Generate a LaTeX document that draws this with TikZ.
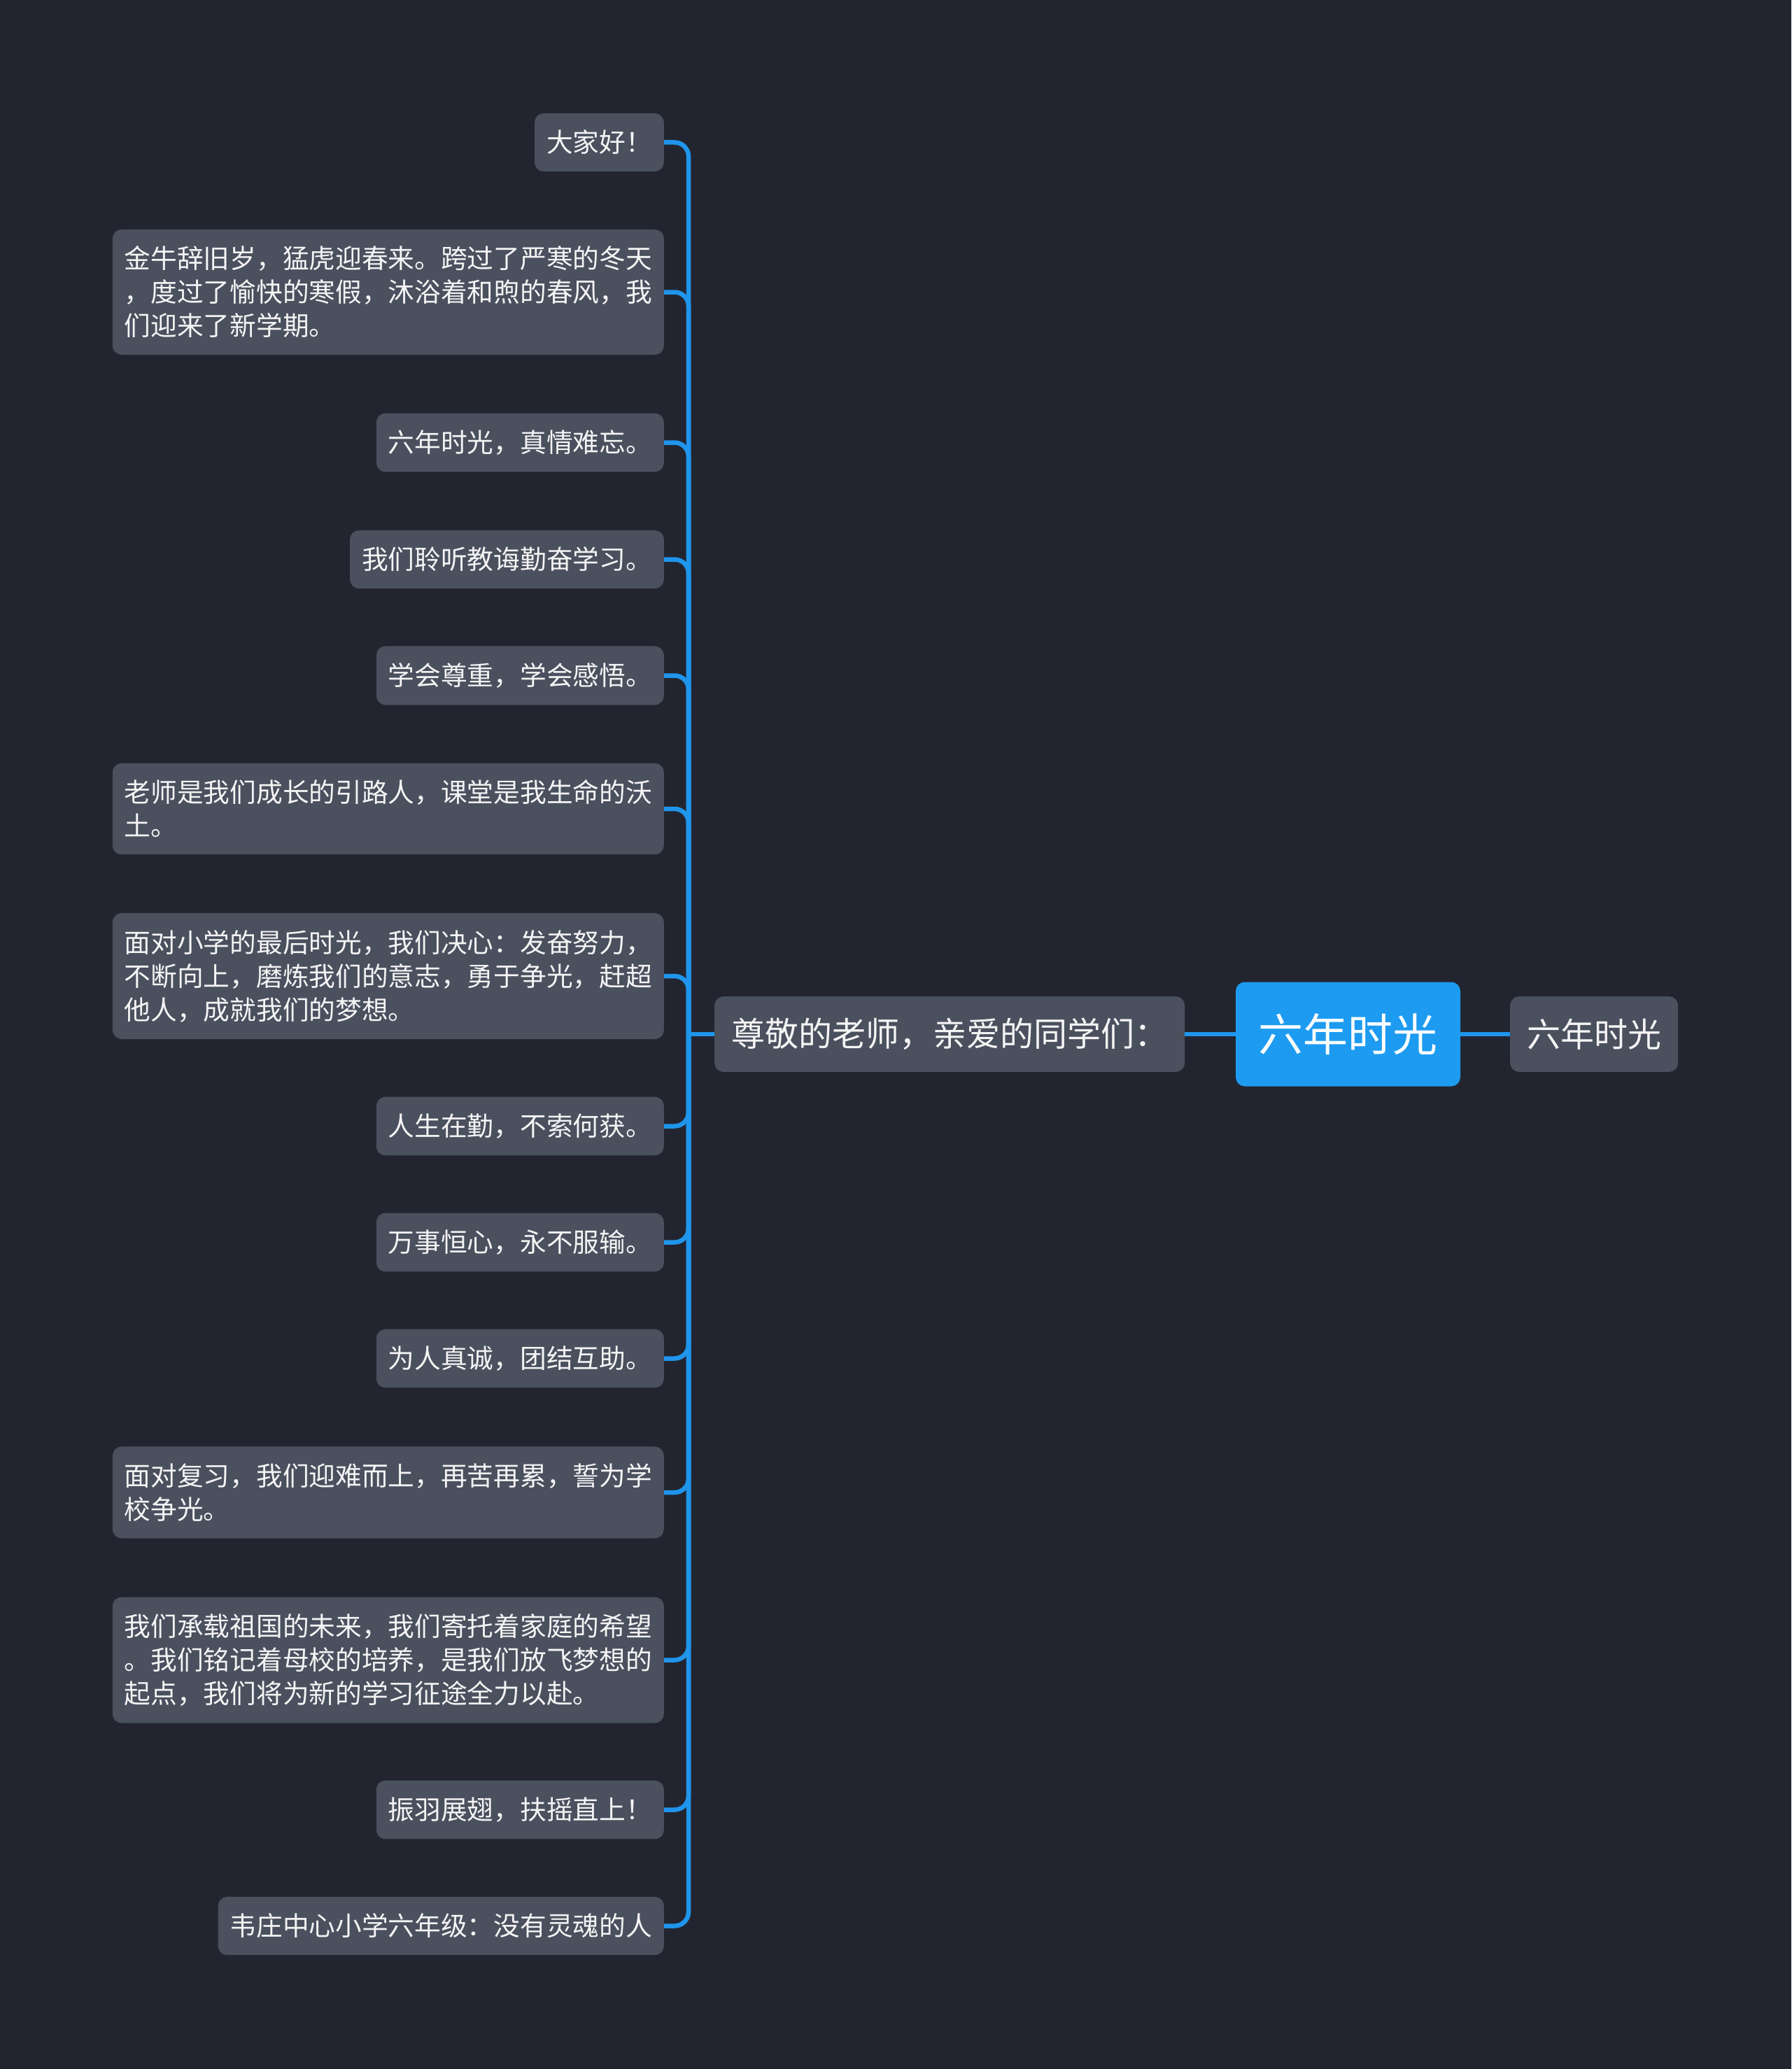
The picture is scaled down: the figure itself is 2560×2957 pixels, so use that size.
\documentclass[tikz,border=0pt]{standalone}
\usepackage{fontspec}
\newfontfamily\cfont{Noto Sans CJK SC}
\definecolor{bgc}{HTML}{22252F}
\definecolor{nodegray}{HTML}{4A505E}
\definecolor{rootblue}{HTML}{1D9BF0}
\definecolor{linkblue}{HTML}{1F95EC}
\definecolor{txt}{HTML}{F4F4F4}
\tikzset{
  kid/.style={fill=nodegray, rounded corners=13pt, inner xsep=17pt, inner ysep=24pt,
    minimum height=83pt, text=txt, font=\cfont\fontsize{37.7}{48}\selectfont, align=left, anchor=east},
  midbox/.style={fill=nodegray, rounded corners=13pt, inner xsep=24pt, inner ysep=0pt,
    minimum height=108pt, text=txt, font=\cfont\fontsize{48}{56}\selectfont},
  rootbox/.style={fill=rootblue, rounded corners=13pt, inner xsep=0pt, inner ysep=0pt,
    minimum width=321pt, minimum height=149pt, text=white, font=\cfont\fontsize{64}{72}\selectfont},
  link/.style={draw=linkblue, line width=6.5pt, rounded corners=20pt}
}
\begin{document}
\begin{tikzpicture}[x=1pt,y=1pt]
\fill[bgc] (0,0) rectangle (2560,-2957);
\useasboundingbox (0,0) rectangle (2560,-2957);
\coordinate (trunk) at (984,-1478);
\node[kid] (c1) at (949,-203.5) {大家好！};
\node[kid] (c2) at (949,-417.5) {金牛辞旧岁，猛虎迎春来。跨过了严寒的冬天\\，度过了愉快的寒假，沐浴着和煦的春风，我\\们迎来了新学期。};
\node[kid] (c3) at (949,-632.5) {六年时光，真情难忘。};
\node[kid] (c4) at (949,-799.5) {我们聆听教诲勤奋学习。};
\node[kid] (c5) at (949,-965.5) {学会尊重，学会感悟。};
\node[kid] (c6) at (949,-1156) {老师是我们成长的引路人，课堂是我生命的沃\\土。};
\node[kid] (c7) at (949,-1395) {面对小学的最后时光，我们决心：发奋努力，\\不断向上，磨炼我们的意志，勇于争光，赶超\\他人，成就我们的梦想。};
\node[kid] (c8) at (949,-1609.5) {人生在勤，不索何获。};
\node[kid] (c9) at (949,-1775.5) {万事恒心，永不服输。};
\node[kid] (c10) at (949,-1941.5) {为人真诚，团结互助。};
\node[kid] (c11) at (949,-2133) {面对复习，我们迎难而上，再苦再累，誓为学\\校争光。};
\node[kid] (c12) at (949,-2372.5) {我们承载祖国的未来，我们寄托着家庭的希望\\。我们铭记着母校的培养，是我们放飞梦想的\\起点，我们将为新的学习征途全力以赴。};
\node[kid] (c13) at (949,-2586.5) {振羽展翅，扶摇直上！};
\node[kid] (c14) at (949,-2752.5) {韦庄中心小学六年级：没有灵魂的人};
\node[midbox, anchor=west] (main) at (1021,-1478) {尊敬的老师，亲爱的同学们：};
\node[rootbox] (root) at (1926.5,-1478) {六年时光};
\node[midbox, anchor=west] (right) at (2158,-1478) {六年时光};
\foreach \i in {1,...,14} {\draw[link] (c\i.east) -| (trunk);}
\draw[link] (trunk) -- (main.west);
\draw[link] (main.east) -- (root.west);
\draw[link] (root.east) -- (right.west);
\end{tikzpicture}
\end{document}
